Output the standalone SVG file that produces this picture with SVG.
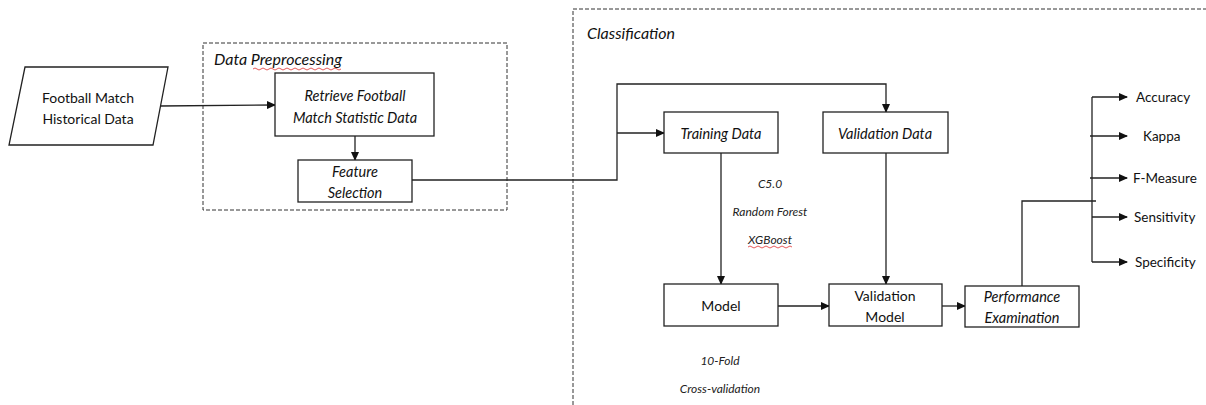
<svg xmlns="http://www.w3.org/2000/svg" width="1206" height="405" viewBox="0 0 1206 405">
<style>
.box{fill:#fff;stroke:#222;stroke-width:1.3}
.grp{fill:none;stroke:#333;stroke-width:1;stroke-dasharray:4,2}
.ln{fill:none;stroke:#222;stroke-width:1.3}
.t{font-family:Lato,"Liberation Sans",sans-serif;font-size:14px;fill:#111;text-anchor:middle;dominant-baseline:central}
.ti{font-style:italic;font-size:14.5px}
.s{font-family:Lato,"Liberation Sans",sans-serif;font-size:12px;font-style:italic;fill:#222;text-anchor:middle;dominant-baseline:central}
.m{font-family:Lato,"Liberation Sans",sans-serif;font-size:13.5px;fill:#111;dominant-baseline:central}
.lbl{font-family:Lato,"Liberation Sans",sans-serif;font-size:16px;font-style:italic;fill:#111}
.sq{fill:none;stroke:#e03030;stroke-width:0.8}
</style>
<defs>
<marker id="ah" markerWidth="9" markerHeight="8" refX="8" refY="4" orient="auto" markerUnits="userSpaceOnUse">
<path d="M0,0 L9,4 L0,8 Z" fill="#111"/>
</marker>
</defs>
<g id="group-preprocessing">
<rect class="grp" x="203" y="43" width="304" height="167"/>
<text class="lbl" x="214" y="65">Data Preprocessing</text>
<path class="sq" d="M253,69 q2,-2 4,0 t4,0 t4,0 t4,0 t4,0 t4,0 t4,0 t4,0 t4,0 t4,0 t4,0 t4,0 t4,0 t4,0 t4,0 t4,0 t4,0 t4,0 t4,0 t4,0 t4,0 t4,0"/>
</g>
<g id="group-classification">
<path class="grp" d="M573,405 V9 H1206"/>
<text class="lbl" x="587" y="39">Classification</text>
</g>
<g id="connectors">
<path class="ln" d="M160,106 L275,105" marker-end="url(#ah)"/>
<path class="ln" d="M355,136 V160" marker-end="url(#ah)"/>
<path class="ln" d="M412,180 H617 V84 H886 V112" marker-end="url(#ah)"/>
<path class="ln" d="M617,133 H664" marker-end="url(#ah)"/>
<path class="ln" d="M721,153 V284" marker-end="url(#ah)"/>
<path class="ln" d="M886,153 V284" marker-end="url(#ah)"/>
<path class="ln" d="M778,306 H829" marker-end="url(#ah)"/>
<path class="ln" d="M942,306 H965" marker-end="url(#ah)"/>
<path class="ln" d="M1022,286 V201 H1096"/>
<path class="ln" d="M1092,97 V262"/>
<path class="ln" d="M1092,97 H1127" marker-end="url(#ah)"/>
<path class="ln" d="M1090,136 H1127" marker-end="url(#ah)"/>
<path class="ln" d="M1090,178 H1127" marker-end="url(#ah)"/>
<path class="ln" d="M1092,217 H1127" marker-end="url(#ah)"/>
<path class="ln" d="M1092,262 H1127" marker-end="url(#ah)"/>
</g>
<g id="historical-data">
<polygon class="box" points="25,67 168,67 153,145 9,145"/>
<text class="t" x="88" y="97">Football Match</text>
<text class="t" x="88" y="118">Historical Data</text>
</g>
<g id="retrieve">
<rect class="box" x="275" y="73" width="159" height="63"/>
<text class="t ti" x="355" y="95">Retrieve Football</text>
<text class="t ti" x="355" y="117">Match Statistic Data</text>
</g>
<g id="feature-selection">
<rect class="box" x="298" y="160" width="114" height="42"/>
<text class="t ti" x="355" y="171">Feature</text>
<text class="t ti" x="355" y="192">Selection</text>
</g>
<g id="training-data">
<rect class="box" x="664" y="112" width="114" height="41"/>
<text class="t ti" x="721" y="133">Training Data</text>
</g>
<g id="validation-data">
<rect class="box" x="823" y="112" width="125" height="41"/>
<text class="t ti" x="885" y="133">Validation Data</text>
</g>
<g id="algorithms">
<text class="s" x="770" y="183">C5.0</text>
<text class="s" x="770" y="211">Random Forest</text>
<text class="s" x="770" y="239">XGBoost</text>
<path class="sq" d="M748,247 q2,-2 4,0 t4,0 t4,0 t4,0 t4,0 t4,0 t4,0 t4,0 t4,0 t4,0 t4,0"/>
</g>
<g id="model">
<rect class="box" x="664" y="284" width="114" height="42"/>
<text class="t" x="721" y="305">Model</text>
</g>
<g id="cv">
<text class="s" x="720" y="360">10-Fold</text>
<text class="s" x="720" y="388">Cross-validation</text>
</g>
<g id="validation-model">
<rect class="box" x="829" y="284" width="113" height="42"/>
<text class="t" x="885" y="295">Validation</text>
<text class="t" x="885" y="316">Model</text>
</g>
<g id="performance">
<rect class="box" x="965" y="286" width="114" height="41"/>
<text class="t ti" x="1022" y="296">Performance</text>
<text class="t ti" x="1022" y="317">Examination</text>
</g>
<g id="metrics">
<text class="m" x="1136" y="97">Accuracy</text>
<text class="m" x="1143" y="136">Kappa</text>
<text class="m" x="1133" y="178">F-Measure</text>
<text class="m" x="1134" y="217">Sensitivity</text>
<text class="m" x="1135" y="262">Specificity</text>
</g>
</svg>
